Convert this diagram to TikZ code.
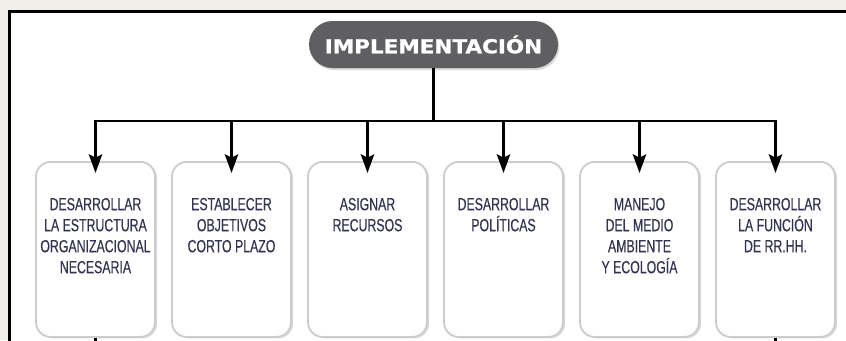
\documentclass[tikz,border=0pt]{standalone}
\usepackage{fontspec}
\usepackage{tikz}
\usetikzlibrary{arrows.meta,shapes.misc,shadows,positioning,calc}
\newfontfamily\boxfont{Liberation Sans}[FakeStretch=0.70, FakeBold=0.4]
\newfontfamily\titlefont{DejaVu Sans}[FakeStretch=1.12, FakeBold=1.2]
\definecolor{titlegray}{RGB}{95,95,97}
\definecolor{boxedge}{RGB}{205,205,205}
\definecolor{boxtext}{RGB}{52,52,82}
\definecolor{outside}{RGB}{240,240,232}
\newcommand{\boxlines}[1]{\parbox[t][131.25pt][t]{89.25pt}{\centering\vspace*{27pt}#1}}
\tikzset{
  >={Stealth[length=14pt,width=10pt,inset=2.5pt]},
  line/.style={line width=2pt},
  arrow/.style={line width=2pt, ->, shorten >=-9pt},
}

\begin{document}
\begin{tikzpicture}[
    x=0.75pt, y=-0.75pt,
    frame/.style={line width=1.6pt},
    title/.style={rounded rectangle, fill=titlegray, text=white,
    minimum width=186.75pt, minimum height=35.25pt, inner sep=0pt,
    font=\titlefont\bfseries\fontsize{14.4}{17}\selectfont,
    drop shadow={opacity=0.3, shadow xshift=1pt, shadow yshift=-1.5pt}},
    task/.style={anchor=north, rounded corners=11pt, draw=boxedge,
    line width=1.4pt, fill=white, inner sep=0pt,
    minimum width=89.25pt, minimum height=131.25pt, text=boxtext,
    font=\boxfont\fontsize{13.2}{15.75}\selectfont,
    drop shadow={opacity=0.3, shadow xshift=1.5pt, shadow yshift=-1pt}}
    ]
    \useasboundingbox (0,0) rectangle (846,340);
    \clip (0,0) rectangle (846,340);

	%frame
    \fill[outside] (0,0) rectangle (846,340);
    \fill[white] (9.5,11.5) rectangle (860,360);
    \draw[frame] (860,11.5) -- (9.5,11.5) -- (9.5,360);

    %title
    \node[title] (impl) at (433.5,44.5) {IMPLEMENTACIÓN};
    \coordinate (bus) at (433.5,121);

    %tasks
    \node[task] (b1) at (95.5,161)
    {\boxlines{DESARROLLAR\\LA ESTRUCTURA\\ORGANIZACIONAL\\NECESARIA}};
    \node[task] (b2) at (231.5,161)
    {\boxlines{ESTABLECER\\OBJETIVOS\\CORTO PLAZO}};
    \node[task] (b3) at (367.5,161) {\boxlines{ASIGNAR\\RECURSOS}};
    \node[task] (b4) at (503.5,161) {\boxlines{DESARROLLAR\\POLÍTICAS}};
    \node[task] (b5) at (639.5,161)
    {\boxlines{MANEJO\\DEL MEDIO\\AMBIENTE\\Y ECOLOGÍA}};
    \node[task] (b6) at (775.5,161)
    {\boxlines{DESARROLLAR\\LA FUNCIÓN\\DE RR.HH.}};

    %connectors
    \draw[line] (impl.south) -- (bus);
    \draw[arrow] (bus) -| (b1.north);
    \draw[arrow] (bus) -| (b6.north);
    \draw[arrow] (b2 |- bus) -- (b2.north);
    \draw[arrow] (b3 |- bus) -- (b3.north);
    \draw[arrow] (b4 |- bus) -- (b4.north);
    \draw[arrow] (b5 |- bus) -- (b5.north);

    \coordinate (down1) at (95.5,346);
    \coordinate (down6) at (775.5,346);
    \draw[line] (b1.south) -- (down1);
    \draw[line] (b6.south) -- (down6);

\end{tikzpicture}
\end{document}
